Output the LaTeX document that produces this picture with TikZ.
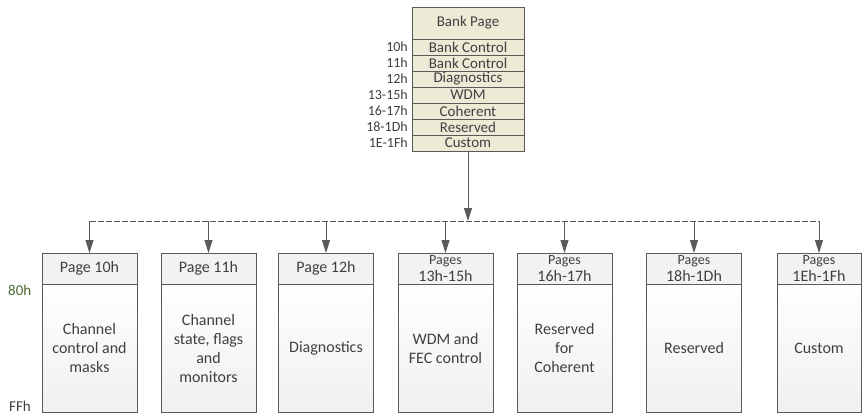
\documentclass[tikz,border=0pt]{standalone}
\usepackage{fontspec}
\setmainfont{Carlito}
\usetikzlibrary{arrows.meta,positioning}
\definecolor{linegray}{HTML}{5A5A5A}
\definecolor{bankfill}{HTML}{EDEBD6}
\definecolor{hdrfill}{HTML}{F2F2F2}
\definecolor{txtgray}{HTML}{404040}
\definecolor{offgreen}{HTML}{4A6B2E}
\tikzset{
  >={Triangle[width=8pt,length=13pt]},
  bankrow/.style = {rectangle, draw=linegray, fill=bankfill, minimum width=112pt, minimum height=16pt, inner sep=0pt, outer sep=0pt, font=\fontsize{15}{16}\selectfont, text=txtgray},
  offs/.style = {inner sep=0pt, font=\fontsize{14}{15}\selectfont, text=txtgray},
  pghead/.style = {rectangle, draw=linegray, fill=hdrfill, minimum height=31pt, inner sep=0pt, outer sep=0pt, align=center, font=\fontsize{16}{17}\selectfont, text=txtgray},
  pgbody/.style = {rectangle, draw=linegray, top color=white, bottom color=gray!12, minimum height=128pt, inner sep=0pt, outer sep=0pt, align=center, font=\fontsize{16}{19}\selectfont, text=txtgray},
  conn/.style = {draw=linegray, line width=0.9pt},
}

\begin{document}
\begin{tikzpicture}[x=1pt, y=-1pt]
  \useasboundingbox (0,0) rectangle (862,415);

  % bank page
  \node[bankrow, minimum height=32pt] (bank) at (468,23) {Bank Page};
  \node[bankrow, below=0pt of bank] (r10) {Bank Control};
  \node[bankrow, below=0pt of r10] (r11) {Bank Control};
  \node[bankrow, below=0pt of r11] (r12) {Diagnostics};
  \node[bankrow, below=0pt of r12] (r13) {WDM};
  \node[bankrow, below=0pt of r13] (r16) {Coherent};
  \node[bankrow, below=0pt of r16] (r18) {Reserved};
  \node[bankrow, below=0pt of r18] (r1e) {Custom};

  \node[offs, left=4pt of r10] {10h};
  \node[offs, left=4pt of r11] {11h};
  \node[offs, left=4pt of r12] {12h};
  \node[offs, left=4pt of r13] {13-15h};
  \node[offs, left=4pt of r16] {16-17h};
  \node[offs, left=4pt of r18] {18-1Dh};
  \node[offs, left=4pt of r1e] {1E-1Fh};

  % pages
  \foreach \x/\w/\n/\hd/\bd in {
      89.5/95/1/{Page 10h}/{Channel\\control and\\masks},
      208.5/95/2/{Page 11h}/{Channel\\state, flags\\and\\monitors},
      326/95/3/{Page 12h}/{Diagnostics},
      445.5/95/4/{\fontsize{14}{15}\selectfont Pages\\13h-15h}/{WDM and\\FEC control},
      564.5/95/5/{\fontsize{14}{15}\selectfont Pages\\16h-17h}/{Reserved\\for\\Coherent},
      694/95/6/{\fontsize{14}{15}\selectfont Pages\\18h-1Dh}/{Reserved},
      819/84/7/{\fontsize{14}{15}\selectfont Pages\\1Eh-1Fh}/{Custom}} {
    \node[pghead, minimum width=\w pt] (hd\n) at (\x,268.5) {\hd};
    \node[pgbody, minimum width=\w pt, below=0pt of hd\n] (pg\n) {\bd};
  }

  \node[anchor=west, inner sep=0pt, font=\fontsize{15}{16}\selectfont, text=offgreen] (top) at (8,290) {80h};
  \node[anchor=west, inner sep=0pt, font=\fontsize{15}{16}\selectfont, text=txtgray] (bot) at (9,406) {FFh};

  % connectors
  \coordinate (bus) at (468,221);
  \draw[conn, ->] (r1e.south) -- (bus);
  \draw[conn, dashed, dash pattern=on 6pt off 2pt] (bus -| hd1.north) -- (bus -| hd7.north);
  \foreach \n in {1,...,7}
    \draw[conn, ->] (bus -| hd\n.north) -- (hd\n.north);
\end{tikzpicture}
\end{document}
